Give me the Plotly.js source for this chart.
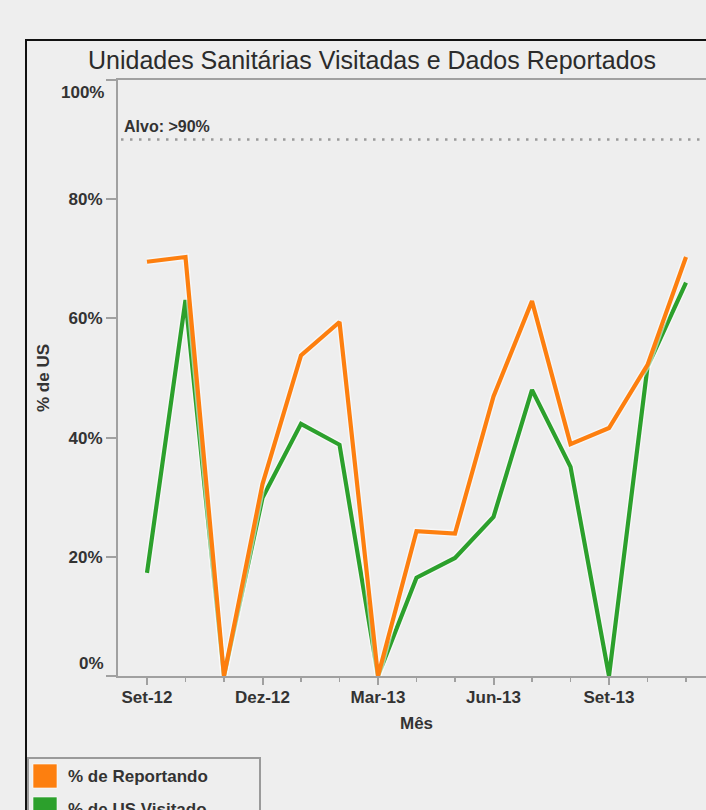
<!DOCTYPE html>
<html>
<head>
<meta charset="utf-8">
<script src="https://cdn.plot.ly/plotly-3.0.1.min.js"></script>
<style>
  html, body { margin: 0; padding: 0; background: #eeeeee; overflow: hidden; }
  #chart { width: 740px; height: 860px; }
</style>
</head>
<body>
<div id="chart"></div>
<script>
// ---- data ----
const months = ["Set-12","Out-12","Nov-12","Dez-12","Jan-13","Fev-13","Mar-13","Abr-13","Mai-13","Jun-13","Jul-13","Ago-13","Set-13","Out-13","Nov-13"];
const reportando = [69.5, 70.3, 0, 32.2, 53.8, 59.4, 0, 24.3, 23.9, 46.9, 62.9, 38.9, 41.6, 52.2, 70.3];
const visitado   = [17.3, 63.1, 0, 29.9, 42.3, 38.8, 0, 16.5, 19.8, 26.7, 48.0, 35.1, 0, 51.9, 66.0];
const majorTickLabels = ["Set-12","Dez-12","Mar-13","Jun-13","Set-13"];
const yTickValues = [0, 20, 40, 60, 80, 100];
const yTickLabels = ["0%", "20%", "40%", "60%", "80%", "100%"];
const target = 90;
const targetLabel = "Alvo: >90%";
const seriesNames = ["% de Reportando", "% de US Visitado"];
const seriesColors = ["#fd7f0f", "#2ca02c"];

// ---- layout geometry (pixels) ----
const W = 740, H = 860;
const L = 118, R = 714, T = 80, B = 676;
const pw = R - L, ph = B - T;
const px = v => (v - L) / pw;          // pixel x -> paper x
const py = v => (B - v) / ph;          // pixel y -> paper y

const xIdx = months.map((m, i) => i);
const majorVals = majorTickLabels.map(t => months.indexOf(t));
const FONT = "Liberation Sans, Arial, sans-serif";
const TXT = "#333333";
const GRID = "#a0a0a0";

function halo(y) {
  return { x: xIdx, y: y, mode: "lines", showlegend: false, hoverinfo: "skip",
           line: { color: "rgba(255,255,255,0.55)", width: 7 } };
}
const traces = [
  halo(visitado),
  { x: xIdx, y: visitado, name: seriesNames[1], mode: "lines", showlegend: false,
    line: { color: seriesColors[1], width: 4.2 } },
  halo(reportando),
  { x: xIdx, y: reportando, name: seriesNames[0], mode: "lines", showlegend: false,
    line: { color: seriesColors[0], width: 4.2 } }
];

const x0 = -0.753, x1 = 14.727;

const shapes = [
  // outer frame
  { type: "rect", xref: "paper", yref: "paper", x0: px(26), x1: px(718), y0: py(900), y1: py(40),
    line: { color: "#111", width: 2 }, layer: "below" },
  // target dotted line
  { type: "line", xref: "paper", yref: "y", x0: px(121), x1: 1, y0: target, y1: target,
    line: { color: "#9a9a9a", width: 2.5, dash: "2.5px,6.5px" }, layer: "below" },
  // legend box
  { type: "rect", xref: "paper", yref: "paper", x0: px(28), x1: px(260), y0: py(900), y1: py(758),
    line: { color: "#9a9a9a", width: 2 } },
];
const annotations = [
  { xref: "paper", yref: "y", x: px(122), y: target, yshift: 13, xanchor: "left", yanchor: "middle",
    text: targetLabel, showarrow: false, font: { family: FONT, size: 16, color: TXT, weight: "bold" } },
  // end tick labels shifted inward
  { xref: "paper", yref: "y", x: px(106), y: yTickValues[5], yshift: -12, xanchor: "right", yanchor: "middle",
    text: yTickLabels[5], showarrow: false, font: { family: FONT, size: 17, color: TXT, weight: "bold" } },
  { xref: "paper", yref: "y", x: px(106), y: yTickValues[0], yshift: 13, xanchor: "right", yanchor: "middle",
    text: yTickLabels[0], showarrow: false, font: { family: FONT, size: 17, color: TXT, weight: "bold" } },
  // axis titles
  { xref: "paper", yref: "paper", x: 0.5, y: py(724), xanchor: "center", yanchor: "middle",
    text: "Mês", showarrow: false, font: { family: FONT, size: 17, color: TXT, weight: "bold" } },
  { xref: "paper", yref: "paper", x: px(43), y: 0.5, xanchor: "center", yanchor: "middle", textangle: -90,
    text: "% de US", showarrow: false, font: { family: FONT, size: 17, color: TXT, weight: "bold" } }
];
// custom legend with square swatches
seriesNames.forEach((name, i) => {
  const cy = 776 + i * 33;
  shapes.push({ type: "rect", xref: "paper", yref: "paper", x0: px(33), x1: px(57), y0: py(cy + 12), y1: py(cy - 12),
                fillcolor: seriesColors[i], line: { color: "rgba(255,255,255,0.6)", width: 1 } });
  annotations.push({ xref: "paper", yref: "paper", x: px(66), y: py(cy), xanchor: "left", yanchor: "middle",
                     text: name, showarrow: false, font: { family: FONT, size: 17, color: TXT, weight: "bold" } });
});

const layout = {
  width: W, height: H,
  margin: { l: L, r: W - R, t: T, b: H - B, pad: 0 },
  paper_bgcolor: "#eeeeee", plot_bgcolor: "#eeeeee",
  showlegend: false,
  title: { text: "Unidades Sanitárias Visitadas e Dados Reportados",
           font: { family: FONT, size: 25, color: "#2b2b2b" },
           xref: "paper", x: px(372), xanchor: "center",
           yref: "container", y: 1 - 60 / H, yanchor: "middle" },
  xaxis: {
    range: [x0, x1], showgrid: false, zeroline: false,
    showline: true, linecolor: GRID, linewidth: 2, mirror: true,
    ticks: "outside", ticklen: 7, tickwidth: 2, tickcolor: GRID,
    tickvals: majorVals, ticktext: majorTickLabels,
    tickfont: { family: FONT, size: 17, color: TXT, weight: "bold" },
    ticklabelstandoff: -2,
    minor: { ticks: "outside", tick0: 0, dtick: 1, ticklen: 4, tickwidth: 1.5, tickcolor: GRID, showgrid: false },
    fixedrange: true
  },
  yaxis: {
    range: [0, 100], showgrid: false, zeroline: false,
    showline: true, linecolor: GRID, linewidth: 2,
    ticks: "outside", ticklen: 10, tickwidth: 2, tickcolor: GRID,
    tickvals: yTickValues,
    ticktext: yTickLabels.map((t, i) => (i === 0 || i === yTickLabels.length - 1) ? "" : t),
    tickfont: { family: FONT, size: 17, color: TXT, weight: "bold" },
    fixedrange: true
  },
  shapes: shapes,
  annotations: annotations
};

Plotly.newPlot("chart", traces, layout, { displayModeBar: false, staticPlot: true });
</script>
</body>
</html>
